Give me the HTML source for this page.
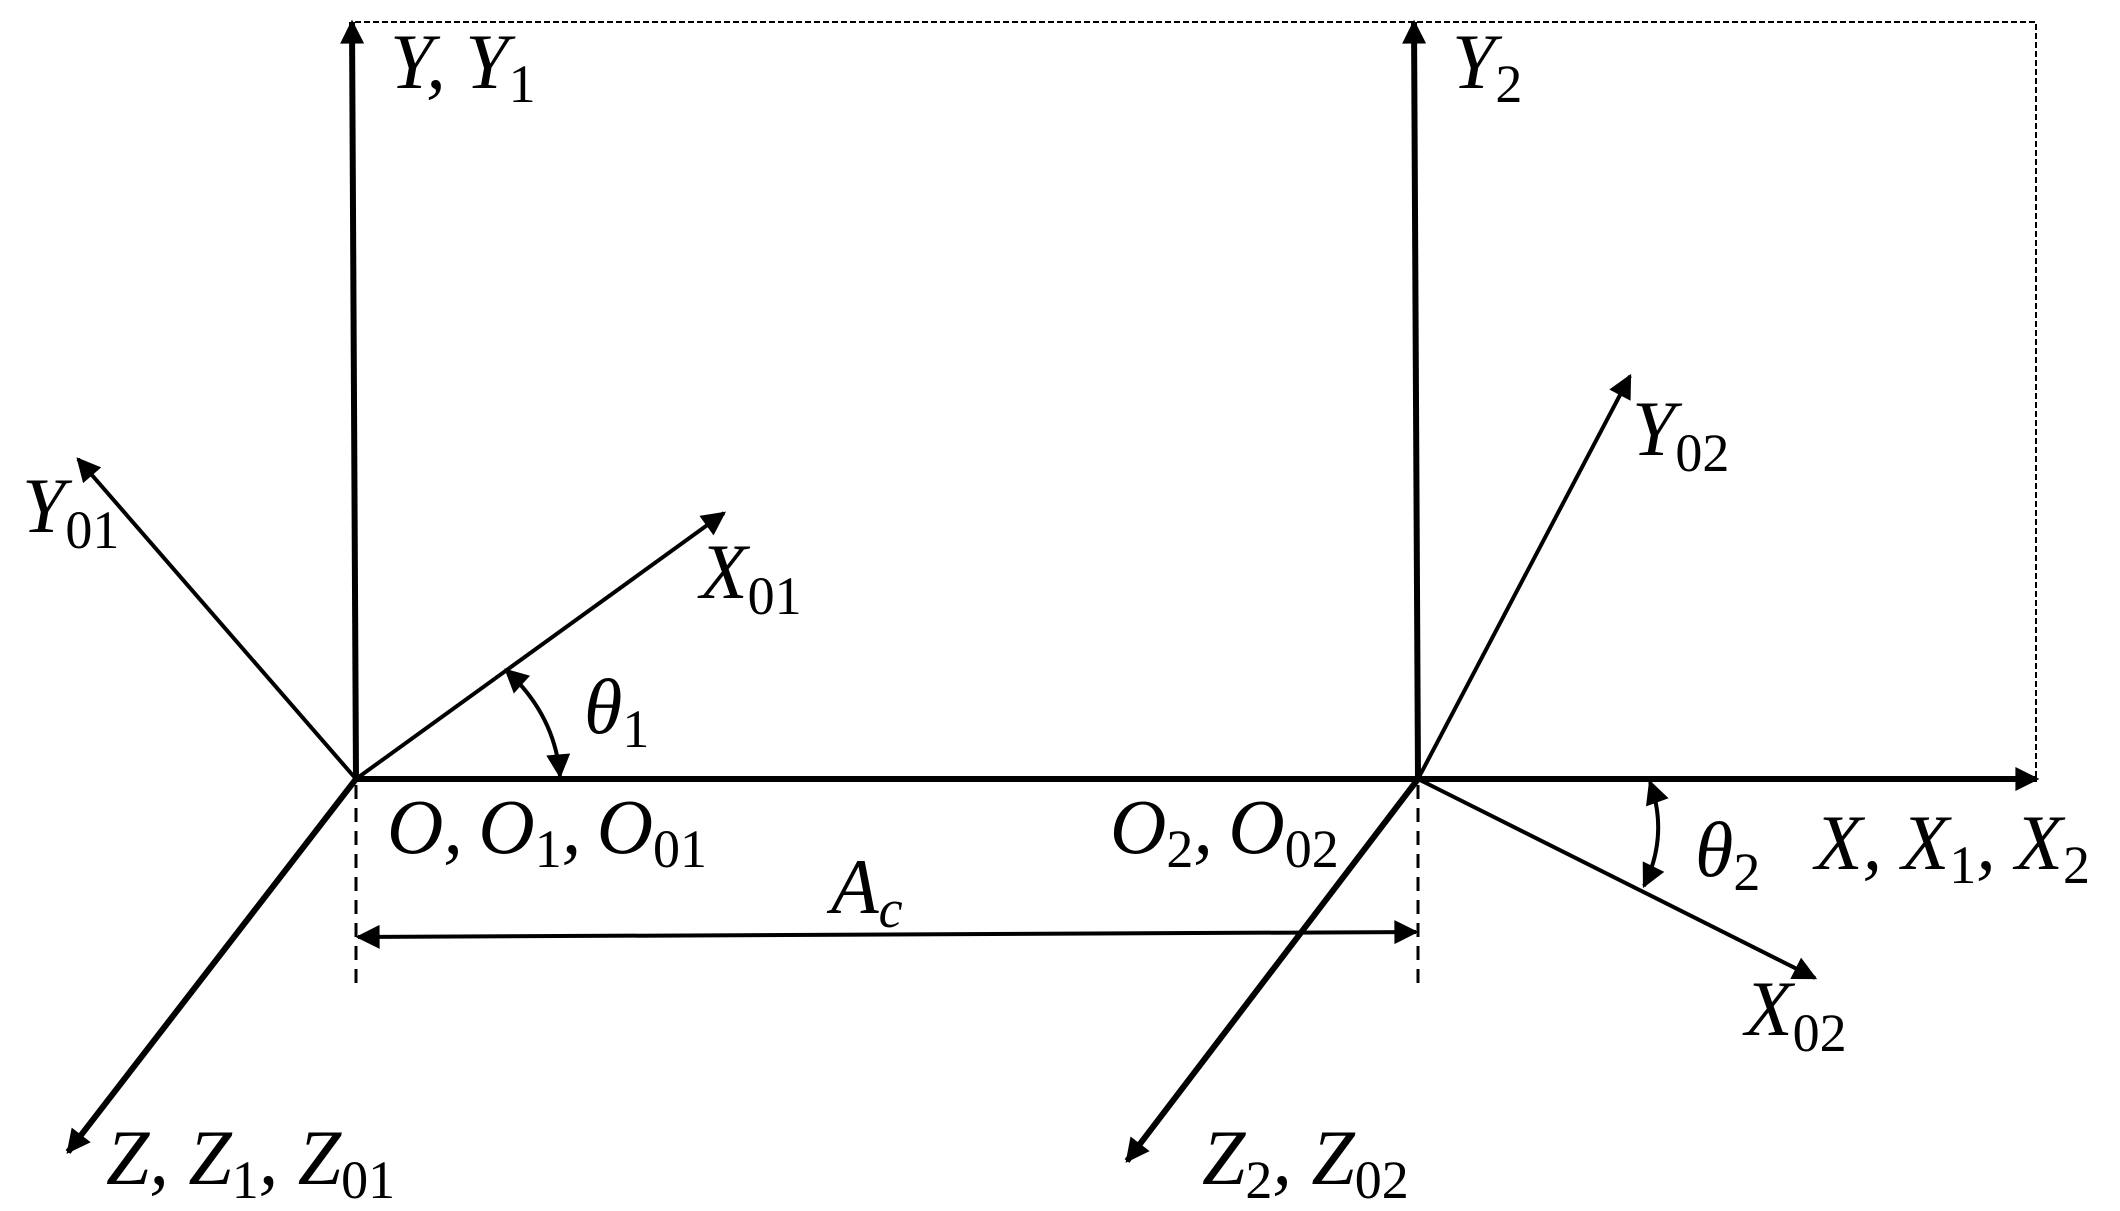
<!DOCTYPE html>
<html><head><meta charset="utf-8"><style>
html,body{margin:0;padding:0;background:#fff;}
svg{display:block;}
text{font-family:"Liberation Serif",serif;font-style:italic;font-size:78px;fill:#000;}
tspan.s{font-style:normal;font-size:54px;}
</style></head><body>
<svg width="2120" height="1211" viewBox="0 0 2120 1211" xmlns="http://www.w3.org/2000/svg">
<defs>
<marker id="b" viewBox="0 0 10 10" refX="9" refY="5" markerWidth="28" markerHeight="24" markerUnits="userSpaceOnUse" orient="auto-start-reverse">
<path d="M0,0 L10,5 L0,10 z" fill="#000"/></marker>
</defs>
<g stroke="#000" fill="none">
<path d="M355,22 L2036,22 L2036,779" stroke-width="2" stroke-dasharray="6,3"/>
<line x1="356" y1="785" x2="356" y2="988" stroke-width="3" stroke-dasharray="14,9"/>
<line x1="1418" y1="785" x2="1418" y2="988" stroke-width="3" stroke-dasharray="14,9"/>
<line x1="356" y1="779" x2="352" y2="22" stroke-width="6" marker-end="url(#b)"/>
<line x1="1418" y1="779" x2="1414" y2="22" stroke-width="6" marker-end="url(#b)"/>
<line x1="356" y1="779" x2="2037" y2="779" stroke-width="6" marker-end="url(#b)"/>
<line x1="356" y1="779" x2="68" y2="1152" stroke-width="6" marker-end="url(#b)"/>
<line x1="1418" y1="779" x2="1127" y2="1161" stroke-width="6" marker-end="url(#b)"/>
<line x1="356" y1="779" x2="78" y2="459" stroke-width="4" marker-end="url(#b)"/>
<line x1="356" y1="779" x2="724" y2="513" stroke-width="4" marker-end="url(#b)"/>
<line x1="1418" y1="779" x2="1630" y2="376" stroke-width="4" marker-end="url(#b)"/>
<line x1="1418" y1="779" x2="1815" y2="978" stroke-width="4" marker-end="url(#b)"/>
<line x1="358" y1="937" x2="1416" y2="932" stroke-width="4" marker-start="url(#b)" marker-end="url(#b)"/>
<path d="M506,670 Q555,715 560,776" stroke-width="4" marker-start="url(#b)" marker-end="url(#b)"/>
<path d="M1650,782 Q1669,835 1644,886" stroke-width="4" marker-start="url(#b)" marker-end="url(#b)"/>
</g>
<text x="390" y="88">Y, Y<tspan class="s" dy="14">1</tspan></text>
<text x="1452" y="88">Y<tspan class="s" dy="14">2</tspan></text>
<text x="22" y="532">Y<tspan class="s" dy="16">01</tspan></text>
<text x="700" y="598">X<tspan class="s" dy="16">01</tspan></text>
<text x="584" y="733">θ<tspan class="s" dy="14">1</tspan></text>
<text x="1632" y="455">Y<tspan class="s" dy="16">02</tspan></text>
<text x="387" y="853">O,<tspan dx="-4"> O</tspan><tspan class="s" dy="14">1</tspan><tspan dy="-14">,</tspan><tspan dx="-4" dy="0"> O</tspan><tspan class="s" dy="14">01</tspan></text>
<text x="831" y="913">A<tspan class="s" dy="14" style="font-style:italic">c</tspan></text>
<text x="1110" y="853">O<tspan class="s" dy="14">2</tspan><tspan dy="-14">,</tspan><tspan dx="-4"> O</tspan><tspan class="s" dy="14">02</tspan></text>
<text x="1695" y="876">θ<tspan class="s" dy="14">2</tspan></text>
<text x="1815" y="869">X, X<tspan class="s" dy="14">1</tspan><tspan dy="-14">, X</tspan><tspan class="s" dy="14">2</tspan></text>
<text x="1745" y="1035">X<tspan class="s" dy="16">02</tspan></text>
<text x="106" y="1184">Z, Z<tspan class="s" dy="14">1</tspan><tspan dy="-14">, Z</tspan><tspan class="s" dy="14">01</tspan></text>
<text x="1202" y="1184">Z<tspan class="s" dy="14">2</tspan><tspan dy="-14">, Z</tspan><tspan class="s" dy="14">02</tspan></text>
</svg>
</body></html>
